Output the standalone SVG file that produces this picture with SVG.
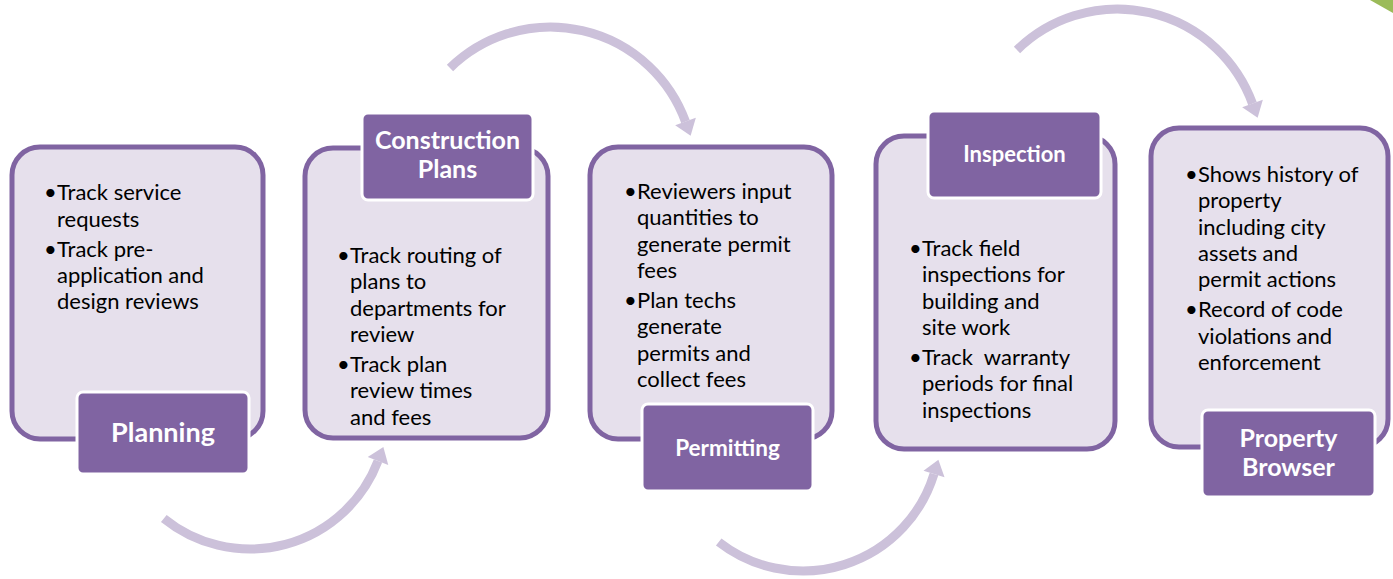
<svg xmlns="http://www.w3.org/2000/svg" width="1393" height="579" viewBox="0 0 1393 579">
<style>
.box{fill:#E6E0EC;stroke:#8064A2;stroke-width:5}
.lbl{fill:#8064A2;stroke:#FFFFFF;stroke-width:3}
.body{font-family:Lato,"Liberation Sans",sans-serif;font-size:22px;fill:#000000;white-space:pre}
.title{font-family:Lato,"Liberation Sans",sans-serif;font-weight:bold;fill:#FFFFFF;text-anchor:middle}
.arc{fill:none;stroke:#CCC1DA;stroke-width:9;marker-end:url(#ah)}
</style>
<defs>
<marker id="ah" markerUnits="userSpaceOnUse" markerWidth="16" markerHeight="22" refX="0" refY="11" orient="auto" overflow="visible">
<path d="M0,0 L15,11 L0,22 Z" fill="#CCC1DA"/>
</marker>
</defs>
<rect width="1393" height="579" fill="#FFFFFF"/>
<polygon points="1370,0 1393,0 1393,13" fill="#9BBB59"/>
<g id="connectors">
<path class="arc" d="M163.8,518.5 A137,137 0 0 0 378,461"/>
<path class="arc" d="M450,68 A143.7,143.7 0 0 1 685.5,121.6"/>
<path class="arc" d="M718.7,542 A137,137 0 0 0 934,474"/>
<path class="arc" d="M1017,50 A143.7,143.7 0 0 1 1252.5,103.6"/>
</g>
<g id="planning">
<rect class="box" x="12" y="147" width="251" height="292" rx="28"/>
<text class="body"><tspan x="44" y="200">•</tspan><tspan x="57" y="200">Track service</tspan><tspan x="57" y="226.5">requests</tspan><tspan x="44" y="256.5">•</tspan><tspan x="57" y="256.5">Track pre-</tspan><tspan x="57" y="283">application and</tspan><tspan x="57" y="308.5">design reviews</tspan></text>
<rect class="lbl" x="77" y="392" width="172" height="82" rx="6"/>
<text class="title" x="163" y="442" font-size="27">Planning</text>
</g>
<g id="construction-plans">
<rect class="box" x="305" y="148" width="243" height="290" rx="28"/>
<text class="body"><tspan x="337" y="263">•</tspan><tspan x="350" y="263">Track routing of</tspan><tspan x="350" y="289.3">plans to</tspan><tspan x="350" y="315.6">departments for</tspan><tspan x="350" y="342">review</tspan><tspan x="337" y="372">•</tspan><tspan x="350" y="372">Track plan</tspan><tspan x="350" y="398.3">review times</tspan><tspan x="350" y="424.6">and fees</tspan></text>
<rect class="lbl" x="362" y="113" width="171" height="87" rx="6"/>
<text class="title" x="447.5" y="149" font-size="25">Construction</text>
<text class="title" x="447.5" y="178" font-size="25">Plans</text>
</g>
<g id="permitting">
<rect class="box" x="590" y="147" width="242" height="292" rx="28"/>
<text class="body"><tspan x="624" y="199">•</tspan><tspan x="637" y="199">Reviewers input</tspan><tspan x="637" y="225.3">quantities to</tspan><tspan x="637" y="251.6">generate permit</tspan><tspan x="637" y="278">fees</tspan><tspan x="624" y="308">•</tspan><tspan x="637" y="308">Plan techs</tspan><tspan x="637" y="334.3">generate</tspan><tspan x="637" y="360.6">permits and</tspan><tspan x="637" y="387">collect fees</tspan></text>
<rect class="lbl" x="642" y="404" width="171" height="87" rx="6"/>
<text class="title" x="727.5" y="456" font-size="22.5">Permitting</text>
</g>
<g id="inspection">
<rect class="box" x="876" y="136" width="239" height="313" rx="28"/>
<text class="body"><tspan x="909" y="256">•</tspan><tspan x="922" y="256">Track field</tspan><tspan x="922" y="282.3">inspections for</tspan><tspan x="922" y="308.6">building and</tspan><tspan x="922" y="335">site work</tspan><tspan x="909" y="365">•</tspan><tspan x="922" y="365">Track  warranty</tspan><tspan x="922" y="391.3">periods for final</tspan><tspan x="922" y="417.6">inspections</tspan></text>
<rect class="lbl" x="928" y="111" width="173" height="87" rx="6"/>
<text class="title" x="1014.5" y="162" font-size="22">Inspection</text>
</g>
<g id="property-browser">
<rect class="box" x="1151" y="128" width="237" height="319" rx="28"/>
<text class="body"><tspan x="1185" y="182">•</tspan><tspan x="1198" y="182">Shows history of</tspan><tspan x="1198" y="208.3">property</tspan><tspan x="1198" y="234.6">including city</tspan><tspan x="1198" y="261">assets and</tspan><tspan x="1198" y="287.3">permit actions</tspan><tspan x="1185" y="317.3">•</tspan><tspan x="1198" y="317.3">Record of code</tspan><tspan x="1198" y="343.6">violations and</tspan><tspan x="1198" y="370">enforcement</tspan></text>
<rect class="lbl" x="1202" y="410" width="173" height="87" rx="6"/>
<text class="title" x="1288.5" y="447" font-size="25">Property</text>
<text class="title" x="1288.5" y="476" font-size="25">Browser</text>
</g>
</svg>
